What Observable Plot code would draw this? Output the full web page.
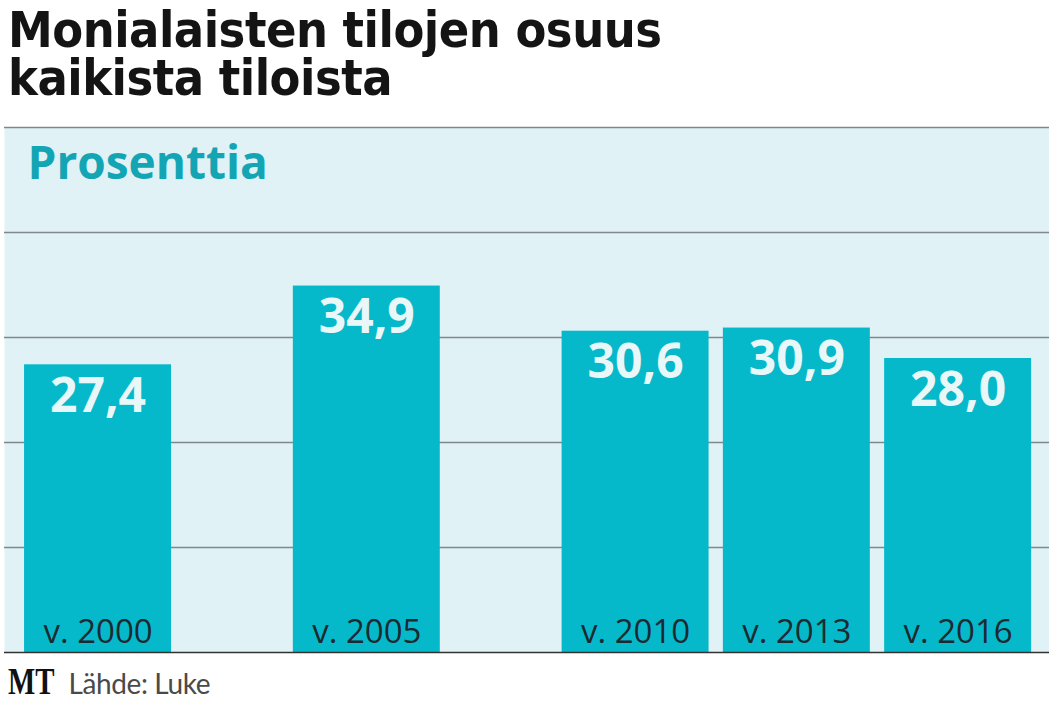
<!DOCTYPE html>
<html>
<head>
<meta charset="utf-8">
<script src="https://cdn.jsdelivr.net/npm/d3@7"></script>
<script src="https://cdn.jsdelivr.net/npm/@observablehq/plot@0.6"></script>
<style>
  html, body { margin: 0; padding: 0; background: #fff; }
  #wrap { position: relative; width: 1049px; height: 702px; overflow: hidden; }
  .tl { position: absolute; left: 8px; margin: 0; white-space: nowrap;
    font-family: "DejaVu Sans Condensed", "DejaVu Sans"; font-stretch: condensed; font-weight: 700;
    font-size: 50px; line-height: 46px; color: #141414; letter-spacing: -0.5px; }
  #t1 { top: 7px; }
  #t2 { top: 55px; }
  #chart { position: absolute; left: 0; top: 120px; }
  #foot { position: absolute; left: 8px; top: 660px; white-space: nowrap; height: 40px; }
  #foot .mt { display: inline-block; transform: scaleX(0.78); transform-origin: left center; margin-right: -13px;
    font-family: "Liberation Serif", "DejaVu Serif"; font-weight: 700; font-size: 37px; color: #111; }
  #foot .src { font-family: "Lato"; font-weight: 400; font-size: 28px; letter-spacing: -0.4px; color: #4a4a4a; margin-left: 14px; }
</style>
</head>
<body>
<div id="wrap">
  <div class="tl" id="t1">Monialaisten tilojen osuus</div>
  <div class="tl" id="t2">kaikista tiloista</div>
  <div id="chart"></div>
  <div id="foot"><span class="mt">MT</span><span class="src">Lähde: Luke</span></div>
</div>
<script>
const years = [2000, 2005, 2010, 2013, 2016];
const values = [27.4, 34.9, 30.6, 30.9, 28.0];
const valueLabels = ["27,4", "34,9", "30,6", "30,9", "28,0"];
const yearLabels = ["v. 2000", "v. 2005", "v. 2010", "v. 2013", "v. 2016"];
const gridTicks = [10, 20, 30, 40, 50];
const unitLabel = "Prosenttia";

const data = years.map((year, i) => ({year, value: values[i], label: valueLabels[i], yearLabel: yearLabels[i]}));
const halfW = 1.367;

const chart = Plot.plot({
  width: 1049,
  height: 540,
  marginTop: 7,
  marginBottom: 8,
  marginLeft: 4,
  marginRight: 0,
  x: {domain: [1998.26, 2017.7], axis: null},
  y: {domain: [0, 50], axis: null},
  style: {background: "transparent", overflow: "visible"},
  marks: [
    Plot.frame({fill: "#e1f2f6", stroke: null}),
    Plot.ruleY(gridTicks, {stroke: "#80888b", strokeWidth: 1.5}),
    Plot.rectY(data, {x1: d => d.year - halfW, x2: d => d.year + halfW, y1: 0, y2: "value", fill: "#06b9ca"}),
    Plot.ruleY([0], {stroke: "#333", strokeWidth: 1.5}),
    Plot.text(data, {x: "year", y: "value", text: "label", dy: 47, lineAnchor: "bottom",
      fill: "#eaf7f9", fontSize: 48, fontWeight: 700, fontFamily: "Open Sans"}),
    Plot.text(data, {x: "year", y: () => 0, text: "yearLabel", dy: -10, lineAnchor: "bottom",
      fill: "#1b2a31", fontSize: 33, fontFamily: "Open Sans"}),
    Plot.text([unitLabel], {frameAnchor: "top-left", dx: 23, dy: 51, lineAnchor: "bottom", textAnchor: "start",
      fill: "#14a5b5", fontSize: 46, fontWeight: 700, fontFamily: "Open Sans"})
  ]
});
document.getElementById("chart").appendChild(chart);
</script>
</body>
</html>
